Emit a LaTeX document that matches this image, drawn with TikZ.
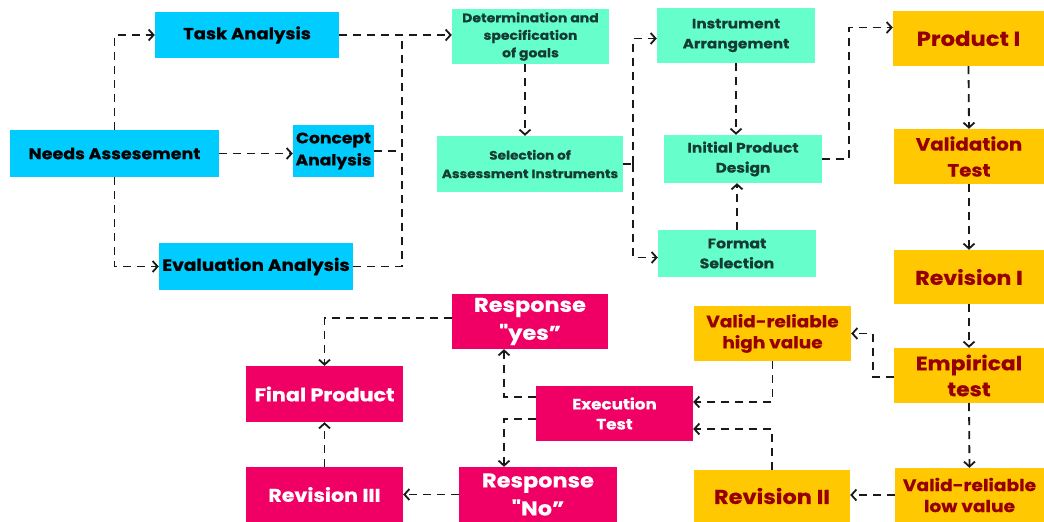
\documentclass[tikz,border=0pt]{standalone}
\usepackage{fontspec}
\setmainfont{Poppins}[Ligatures=TeXOff,
  BoldFeatures={FakeStretch=1.12,FakeBold=0.4}]
\usetikzlibrary{arrows.meta}

\definecolor{needsblue}{RGB}{0,204,255}
\definecolor{designgreen}{RGB}{102,255,204}
\definecolor{testgold}{RGB}{255,200,0}
\definecolor{finalpink}{RGB}{240,0,100}
\definecolor{darkred}{RGB}{150,0,0}
\definecolor{darkteal}{RGB}{20,60,50}

\tikzset{
  box/.style={rectangle, inner sep=0pt, align=center},
  bluebox/.style={box, fill=needsblue, text=black},
  greenbox/.style={box, fill=designgreen, text=darkteal},
  goldbox/.style={box, fill=testgold, text=darkred},
  pinkbox/.style={box, fill=finalpink, text=white},
  flow/.style={draw=black!90, line width=1.8pt, dash pattern=on 8pt off 6pt,
    -{Straight Barb[length=5pt,width=11pt,line width=1.8pt]}},
  link/.style={draw=black!90, line width=1.8pt, dash pattern=on 8pt off 6pt},
  fs/.style 2 args={font=\bfseries\fontsize{#1}{#2}\selectfont},
}

% place a box from its corner coordinates (x1,y1)-(x2,y2), y downwards
\newcommand\placebox[7]{%
  \node[#1, minimum width={(#4-#2)*1pt}, minimum height={(#5-#3)*1pt}, #6] (#7)
    at ({(#2+#4)/2},{(#3+#5)/2})}

\begin{document}
\begin{tikzpicture}[x=1pt,y=-1pt]
\useasboundingbox (0,0) rectangle (1044,522);

% --- analysis stage
\placebox{bluebox}{155}{12}{339}{58}{fs={16.1}{20}}{ta} {Task Analysis};
\placebox{bluebox}{10}{130}{219}{177}{fs={15.6}{20}}{na} {Needs Assesement};
\placebox{bluebox}{293}{125}{374}{177}{fs={15.3}{22}}{ca} {Concept\\Analysis};
\placebox{bluebox}{159}{243}{353}{290}{fs={16.5}{20}}{ea} {Evaluation Analysis};

% --- design stage
\placebox{greenbox}{452}{9}{609}{64}{fs={12.5}{17.5}}{dg} {Determination and\\specification\\of goals};
\placebox{greenbox}{437}{136}{623}{192}{fs={12.2}{18.5}}{si} {Selection of\\Assessment Instruments};
\placebox{greenbox}{657}{8}{815}{63}{fs={13.6}{20}}{ia} {Instrument\\Arrangement};
\placebox{greenbox}{664}{135}{822}{183}{fs={13.8}{20}}{ip} {Initial Product\\Design};
\placebox{greenbox}{658}{230}{816}{277}{fs={14}{20}}{fm} {Format\\Selection};

% --- testing stage
\placebox{goldbox}{893}{11}{1044}{66}{fs={20.3}{24}}{p1} {Product I};
\placebox{goldbox}{894}{129}{1044}{184}{fs={17.7}{26}}{vt} {Validation\\Test};
\placebox{goldbox}{894}{250}{1044}{304}{fs={19.7}{24}}{r1} {Revision I};
\placebox{goldbox}{894}{348}{1044}{403}{fs={19.5}{26}}{et} {Empirical\\test};
\placebox{goldbox}{895}{468}{1044}{522}{fs={16.6}{21}}{lv} {Valid-reliable\\low value};
\placebox{goldbox}{694}{306}{851}{361}{fs={16.5}{21}}{hv} {Valid-reliable\\high value};
\placebox{goldbox}{694}{470}{850}{522}{fs={20.1}{24}}{r2} {Revision II};

% --- final stage
\placebox{pinkbox}{536}{386}{693}{441}{fs={15}{20}}{ex} {Execution\\Test};
\placebox{pinkbox}{452}{294}{608}{349}{fs={20}{28}}{ys} {Response\\"yes”};
\placebox{pinkbox}{459}{467}{617}{522}{fs={20}{28}}{no} {Response\\"No”};
\placebox{pinkbox}{246}{366}{403}{422}{fs={18.5}{22}}{fp} {Final Product};
\placebox{pinkbox}{246}{467}{403}{522}{fs={18.4}{22}}{r3} {Revision III};

% turning points of the dashed routes
\coordinate (bus) at (402,0);
\coordinate (split) at (633,0);
\coordinate (up) at (849,0);
\coordinate (back) at (873,0);
\coordinate (fork) at (504,0);
\coordinate (drop) at (525,0);

% analysis connectors
\draw[flow] (na.north) |- (ta.west);
\draw[flow] (na.south) |- (ea.west);
\draw[flow] (na.east) -- (na.east -| ca.west);
\draw[flow] (ta.east) -- (ta.east -| dg.west);
\draw[link] (ca.east) -- (ca.east -| bus);
\draw[link] (ea.east) -| (bus |- ta.east);

% design connectors
\draw[flow] (drop |- dg.south) -- (drop |- si.north);
\draw[link] (si.east) -- (si.east -| split);
\draw[flow] (si.east -| split) |- ([yshift=-3pt]ia.west);
\draw[flow] (si.east -| split) |- ([yshift=-4pt]fm.west);
\draw[flow] (ia.south) -- (ia.south |- ip.north);
\draw[flow] (fm.north) -- (fm.north |- ip.south);
\draw[flow] (ip.east) -- (ip.east -| up) |- ([yshift=11pt]p1.west);

% testing connectors
\draw[flow] (p1.south) -- (vt.north);
\draw[flow] (vt.south) -- (r1.north);
\draw[flow] (r1.south) -- (et.north);
\draw[flow] (et.south) -- (lv.north);
\draw[flow] ([yshift=-1.5pt]et.west) -- ([yshift=-1.5pt]et.west -| back) |- (hv.east);
\draw[flow] (lv.west) -- (lv.west -| r2.east);
\draw[flow] (hv.south) |- ([yshift=11.5pt]ex.east);
\draw[flow] (r2.north) |- ([yshift=-15.5pt]ex.east);

% final connectors
\draw[flow] ([yshift=16.5pt]ex.west) -| (fork |- ys.south);
\draw[flow] ([yshift=-5.5pt]ex.west) -| (fork |- no.north);
\draw[flow] ([yshift=3.5pt]ys.west) -| (fp.north);
\draw[flow] (r3.north) -- (fp.south);
\draw[flow] (no.west) -- (r3.east);

\end{tikzpicture}
\end{document}
